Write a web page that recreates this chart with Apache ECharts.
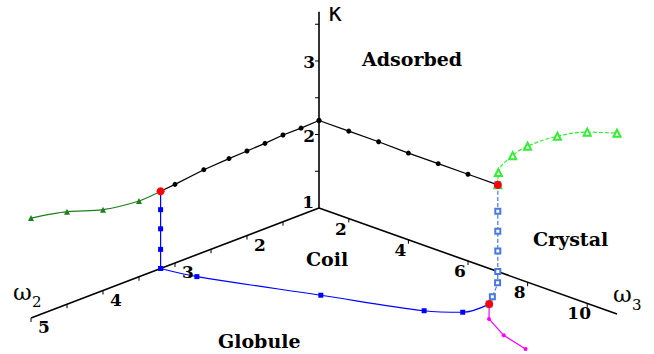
<!DOCTYPE html>
<html><head><meta charset="utf-8">
<script src="https://cdn.jsdelivr.net/npm/echarts@6/dist/echarts.min.js"></script>
<style>html,body{margin:0;padding:0;background:#fff}#c{width:654px;height:354px}</style>
</head><body><div id="c"></div>
<script>
// ---- data (ω2, ω3, κ) ----
// Adsorbed / Coil boundary in the (ω2, κ) plane, ω3 = 1
const acW2 = [1.0, 1.25, 1.5, 1.75, 2.0, 2.25, 2.6, 3.0, 3.2];
const acK  = [2.19, 2.18, 2.18, 2.16, 2.15, 2.14, 2.12, 2.07, 2.05];
// Adsorbed / Coil boundary in the (ω3, κ) plane, ω2 = 1
const acW3 = [1, 2, 3, 4, 5, 6, 7];
const acK3 = [2.19, 2.19, 2.19, 2.18, 2.18, 2.18, 2.18];
// Adsorbed / Globule (ω3 = 1)
const agW2 = [3.2, 3.5, 4.0, 4.5, 5.0];
const agK  = [2.05, 2.03, 2.10, 2.26, 2.36];
// Adsorbed / Crystal (ω2 = 1)
const axW3 = [7, 7.02, 7.5, 8, 9, 10, 11];
const axK  = [2.18, 2.35, 2.65, 2.85, 3.13, 3.33, 3.46];
// Coil / Globule vertical (ω2 = 3.2, ω3 = 1)
const cgVertK = [1.0, 1.26, 1.54, 1.80, 2.05];
// Coil / Globule in κ = 1 plane
const cgW2 = [3.2, 3.11, 2.63, 2.23, 2.0, 1.67];
const cgW3 = [1, 2, 5, 7.5, 8.24, 8.33];
// Coil / Crystal vertical (ω2 = 1, ω3 = 7) then in κ = 1 plane
const ccK   = [2.18, 1.82, 1.55, 1.28, 1.0, 1.0, 1.0, 1.0];
const ccW2  = [1, 1, 1, 1, 1, 1.21, 1.51, 1.67];
const ccW3  = [7, 7, 7, 7, 7, 7.5, 8.05, 8.33];
// Crystal / Globule in κ = 1 plane
const xgW2 = [1.67, 1.95, 2.16, 2.27];
const xgW3 = [8.33, 9, 10, 11];
// triple points
const tpW2 = [3.2, 1, 1.67];
const tpW3 = [1, 7, 8.33];
const tpK  = [2.05, 2.18, 1.0];
// axes
const w2Ticks = [1.5, 2, 2.5, 3, 3.5, 4, 4.5, 5];
const w2Labels = [2, 3, 4, 5];
const w3Ticks = [2, 4, 6, 8, 10];
const w3Labels = [2, 4, 6, 8, 10];
const kTicks = [1.5, 2, 2.5, 3, 3.5];
const kLabels = [1, 2, 3];
const w2Max = 5, w3Max = 11, kMax = 3.67;

// ---- oblique projection onto the flat plotting plane ----
function P(w2, w3, k) {
  return [319 - 72 * (w2 - 1) + 29.8 * (w3 - 1),
          208 + 27.5 * (w2 - 1) + 10.6 * (w3 - 1) - 73.5 * (k - 1)];
}

const serif = 'DejaVu Serif';
function lineS(data, color, opts) {
  return Object.assign({type: 'line', data: data, showSymbol: true, animation: false,
    lineStyle: {color: color, width: 1.2}, itemStyle: {color: color}, z: 3}, opts || {});
}
function lbl(data, off, align) {
  return {type: 'scatter', symbolSize: 0, animation: false, silent: true, z: 5,
    itemStyle: {opacity: 1}, data: data,
    label: {show: true, position: 'inside', formatter: '{b}', offset: off,
      align: align || 'center', verticalAlign: 'middle', color: '#000', textBorderWidth: 0,
      fontFamily: serif, fontWeight: 'bold', fontSize: 17}};
}
function tickS(data, size, off) {
  return {type: 'scatter', symbol: 'rect', symbolSize: size, symbolOffset: off, animation: false, z: 2,
    itemStyle: {color: '#000', opacity: 1}, data: data};
}

const series = [];
// axis lines
series.push(lineS([P(1,1,1), P(w2Max,1,1)], '#000', {symbol: 'none', lineStyle: {color: '#000', width: 1.6}, z: 2}));
series.push(lineS([P(1,1,1), P(1,w3Max,1)], '#000', {symbol: 'none', lineStyle: {color: '#000', width: 1.6}, z: 2}));
series.push(lineS([P(1,1,1), P(1,1,kMax)], '#000', {symbol: 'none', lineStyle: {color: '#000', width: 1.6}, z: 2}));
// ticks
series.push(tickS(w2Ticks.map(v => P(v, 1, 1)), [1, 4], [0, 2]));
series.push(tickS(w3Ticks.map(v => P(1, v, 1)), [1, 4], [0, 2]));
series.push(tickS(kTicks.map(v => P(1, 1, v)), [4, 1], [-2, 0]));
// tick labels
series.push(lbl(w2Labels.map(v => ({name: String(v), value: P(v, 1, 1)})), [13, 9]));
series.push(lbl(w3Labels.map(v => ({name: String(v), value: P(1, v, 1)})), [-8, 10]));
series.push(lbl(kLabels.map(v => ({name: String(v), value: P(1, 1, v)})).map((d, i) => i === 0 ? Object.assign(d, {label: {offset: [-5, -6]}}) : d), [-4, 1], 'right'));

// Adsorbed/Coil
series.push(lineS(acW2.map((w, i) => P(w, 1, acK[i])), '#000', {symbol: 'circle', symbolSize: 5}));
series.push(lineS(acW3.map((w, i) => P(1, w, acK3[i])), '#000', {symbol: 'circle', symbolSize: 5}));
// Adsorbed/Globule
series.push(lineS(agW2.map((w, i) => P(w, 1, agK[i])), '#1d7f1d', {symbol: 'triangle', symbolSize: 6, smooth: 0.3}));
// Adsorbed/Crystal
series.push(lineS(axW3.map((w, i) => P(1, w, axK[i])), '#33ee33', {symbol: 'emptyTriangle', symbolSize: 7, smooth: 0.4,
  lineStyle: {color: '#33ee33', width: 1.2, type: [4, 2]}}));
// Coil/Globule vertical
series.push(lineS(cgVertK.map(k => P(3.2, 1, k)), '#0000ff', {symbol: 'rect', symbolSize: 5}));
// Coil/Globule κ=1
series.push(lineS(cgW2.map((w, i) => P(w, cgW3[i], 1)), '#0000ff', {symbol: 'rect', symbolSize: 5, smooth: 0.35}));
// Coil/Crystal
series.push(lineS(ccK.map((k, i) => P(ccW2[i], ccW3[i], k)), '#4a78e0', {symbol: 'emptyRect', symbolSize: 5, smooth: 0.2,
  lineStyle: {color: '#4a78e0', width: 1.2, type: [4, 2]}}));
// Crystal/Globule
series.push(lineS(xgW2.map((w, i) => P(w, xgW3[i], 1)), '#ff00ff', {symbol: 'circle', symbolSize: 4}));
// triple points
series.push({type: 'scatter', symbol: 'circle', symbolSize: 8, animation: false, z: 6,
  itemStyle: {color: '#ff0000', opacity: 1}, data: tpW2.map((w, i) => P(w, tpW3[i], tpK[i]))});

function txt(x, y, s, size, family, weight) {
  return {type: 'text', left: x, top: y, style: {text: s, fontSize: size, fontFamily: family,
    fontWeight: weight || 'normal', fill: '#000'}};
}
const chart = echarts.init(document.getElementById('c'), null, {renderer: 'svg'});
chart.setOption({
  animation: false,
  grid: {left: 0, right: 0, top: 0, bottom: 0},
  xAxis: {type: 'value', min: 0, max: 654, show: false},
  yAxis: {type: 'value', min: 0, max: 354, inverse: true, show: false},
  series: series,
  graphic: [
    txt(362, 49, 'Adsorbed', 19, serif, 'bold'),
    txt(306, 249, 'Coil', 19, serif, 'bold'),
    txt(533, 229, 'Crystal', 19, serif, 'bold'),
    txt(218, 331, 'Globule', 19, serif, 'bold'),
    txt(328, 1, 'κ', 24, 'DejaVu Sans'),
    txt(13, 280, 'ω', 23, serif),
    txt(32, 294, '2', 15, serif),
    txt(613, 282, 'ω', 23, serif),
    txt(632, 297, '3', 15, serif)
  ]
});
</script></body></html>
